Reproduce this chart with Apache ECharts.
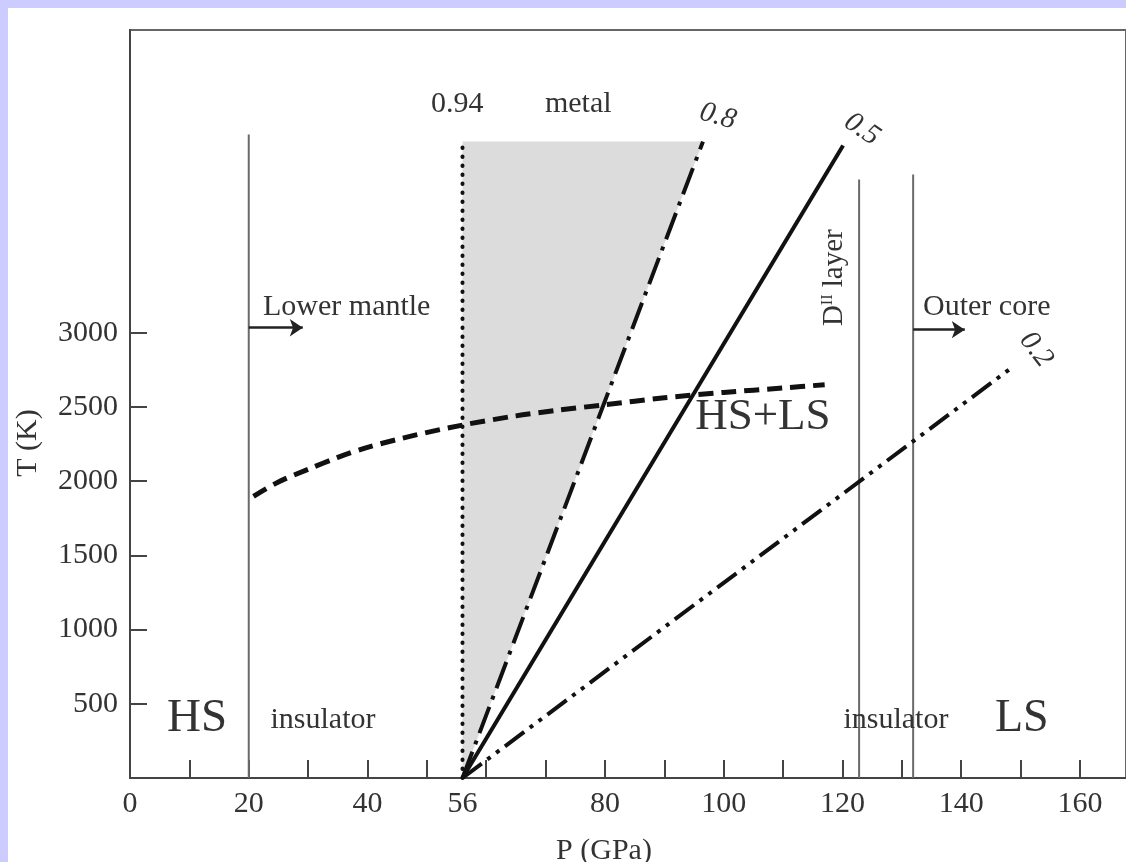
<!DOCTYPE html>
<html>
<head>
<meta charset="utf-8">
<script src="https://cdn.jsdelivr.net/npm/echarts@6/dist/echarts.min.js"></script>
<style>
  html, body { margin: 0; padding: 0; background: #ccccff; width: 1126px; height: 862px; overflow: hidden; }
  #chart { position: absolute; left: 8px; top: 8px; width: 1118px; height: 854px; background: #ffffff; }
</style>
</head>
<body>
<div id="chart"></div>
<script>
// Axis ticks and labels (P in GPa, T in K)
const pressureTicks = [10, 20, 30, 40, 50, 60, 70, 80, 90, 100, 110, 120, 130, 140, 150, 160];
const pressureLabels = [0, 20, 40, 56, 80, 100, 120, 140, 160];
const temperatureLabels = [500, 1000, 1500, 2000, 2500, 3000];

// Region boundaries
const lowerMantleBoundary = [[20, 0], [20, 4336]];
const dLayerBoundary = [[122.8, 0], [122.8, 4032]];
const outerCoreBoundary = [[131.9, 0], [131.9, 4066]];

// Spin-fraction lines starting at the 56 GPa transition
const line094 = [[56, 0], [56, 4270]];
const line08 = [[56, 0], [96.5, 4288]];
const line05 = [[56, 0], [120.1, 4262]];
const line02 = [[56, 0], [148.7, 2771]];

// Geotherm (dashed)
const geothermP = [20.8, 25, 30, 35, 40, 48, 56, 65, 72, 80, 90, 100, 110, 117];
const geothermT = [1897, 1995, 2080, 2160, 2228, 2310, 2378, 2440, 2478, 2515, 2562, 2598, 2628, 2650];

// Shaded metallic region
const metalRegion = [[56, 0], [56, 4288], [96.5, 4288]];

// Arrows marking the mantle and the core
const lowerMantleArrow = [[20, 3034], [29.1, 3034]];
const outerCoreArrow = [[131.9, 3021], [140.6, 3021]];

// Text annotations: [P, T]
const annotationText = ['Lower mantle', 'Outer core', '0.94', 'metal', '0.8', '0.5', '0.2', 'HS+LS', 'HS', 'insulator', 'insulator', 'LS', '{n|D}{s|II}{n| layer}'];
const annotationAt = [[36.5, 3176], [144.3, 3176], [55.1, 4538], [75.5, 4538], [99.0, 4457], [123.3, 4370], [152.6, 2886], [106.6, 2428], [11.3, 398], [32.5, 391], [129.0, 391], [150.2, 398], [118.7, 3371]];

const serif = '"Liberation Serif", "DejaVu Serif", serif';
const ink = '#333333';

// per-annotation look: font size, rotation (deg), italic
const annotationLook = [
  [30, 0, false], [30, 0, false], [30, 0, false], [30, 0, false],
  [29, -16, true], [29, -34, true], [29, -52, true],
  [45, 0, false], [47, 0, false], [30, 0, false], [30, 0, false], [46, 0, false],
  [29, 90, false]
];

function simpleLine(name, data, width, color, type, cap, z) {
  return {
    name: name, type: 'line', data: data, showSymbol: false, symbol: 'none', z: z || 3,
    lineStyle: { width: width, color: color, type: type || 'solid', cap: cap || 'butt' },
    silent: true, animation: false
  };
}

const chart = echarts.init(document.getElementById('chart'), null, { renderer: 'canvas' });

chart.setOption({
  animation: false,
  backgroundColor: '#ffffff',
  grid: {
    left: 122, top: 22, right: 0, bottom: 84,
    containLabel: false, outerBoundsMode: 'none',
    show: true, borderColor: '#666666', borderWidth: 2, backgroundColor: 'transparent'
  },
  xAxis: {
    type: 'value', min: 0, max: 167.75,
    name: 'P (GPa)', nameLocation: 'middle', nameGap: 58,
    nameTextStyle: { fontFamily: serif, fontSize: 30, color: ink, padding: [0, 48, 0, 0] },
    axisLine: { show: true, lineStyle: { color: '#444444', width: 2 } },
    axisTick: { show: true, inside: true, length: 18, customValues: pressureTicks, lineStyle: { color: '#444444', width: 2 } },
    axisLabel: { show: true, margin: 11, customValues: pressureLabels, fontFamily: serif, fontSize: 30, color: ink,
      formatter: function (v) { return String(v); } },
    splitLine: { show: false }
  },
  yAxis: {
    type: 'value', min: 0, max: 5040,
    name: 'T (K)', nameLocation: 'middle', nameRotate: 90, nameGap: 87,
    nameTextStyle: { fontFamily: serif, fontSize: 30, color: ink, padding: [0, 78, 0, 0] },
    axisLine: { show: true, lineStyle: { color: '#444444', width: 2 } },
    axisTick: { show: true, inside: true, length: 17, customValues: temperatureLabels, lineStyle: { color: '#444444', width: 2 } },
    axisLabel: { show: true, margin: 12, customValues: temperatureLabels, fontFamily: serif, fontSize: 30, color: ink,
      formatter: function (v) { return String(v); } },
    splitLine: { show: false }
  },
  series: [
    {
      name: 'metal region', type: 'custom', z: 1, silent: true, animation: false,
      data: [0],
      renderItem: function (params, api) {
        return {
          type: 'polygon',
          shape: { points: metalRegion.map(function (p) { return api.coord(p); }) },
          style: { fill: '#dcdcdc' }
        };
      }
    },
    simpleLine('lower mantle', lowerMantleBoundary, 2, '#6a6a6a'),
    simpleLine('D layer', dLayerBoundary, 2, '#6a6a6a'),
    simpleLine('outer core', outerCoreBoundary, 2, '#6a6a6a'),
    simpleLine('0.94', line094, 4, '#111111', [0.5, 8.5], 'round', 4),
    simpleLine('0.8', line08, 4, '#111111', [28, 8, 4, 8], 'butt', 4),
    simpleLine('0.5', line05, 4, '#111111', 'solid', 'butt', 4),
    simpleLine('0.2', line02, 4, '#111111', [24, 7, 4, 7, 4, 7], 'butt', 4),
    Object.assign(
      simpleLine('geotherm', geothermP.map(function (p, i) { return [p, geothermT[i]]; }), 5, '#111111', [15, 8], 'butt', 5),
      { smooth: 0.3 }
    ),
    {
      name: 'arrows', type: 'lines', coordinateSystem: 'cartesian2d', z: 5, silent: true, animation: false,
      symbol: ['none', 'arrow'], symbolSize: [0, 13],
      lineStyle: { color: '#222222', width: 2.5, opacity: 1, curveness: 0 },
      data: [{ coords: lowerMantleArrow }, { coords: outerCoreArrow }]
    },
    {
      name: 'annotations', type: 'custom', z: 10, silent: true, animation: false,
      data: annotationAt.map(function (p, i) { return [p[0], p[1], i]; }),
      renderItem: function (params, api) {
        const i = api.value(2);
        const pt = api.coord([api.value(0), api.value(1)]);
        const look = annotationLook[i];
        return {
          type: 'text',
          x: pt[0], y: pt[1],
          rotation: look[1] * Math.PI / 180,
          style: {
            text: annotationText[i],
            fontFamily: serif,
            fontSize: look[0],
            fontStyle: look[2] ? 'italic' : 'normal',
            fill: ink,
            align: 'center',
            verticalAlign: 'middle',
            rich: {
              n: { fontFamily: serif, fontSize: 29, fill: ink, color: ink, verticalAlign: 'bottom' },
              s: { fontFamily: serif, fontSize: 16, fill: ink, color: ink, verticalAlign: 'top', padding: [0, 0, 10, 0] }
            }
          }
        };
      }
    }
  ]
});
</script>
</body>
</html>
